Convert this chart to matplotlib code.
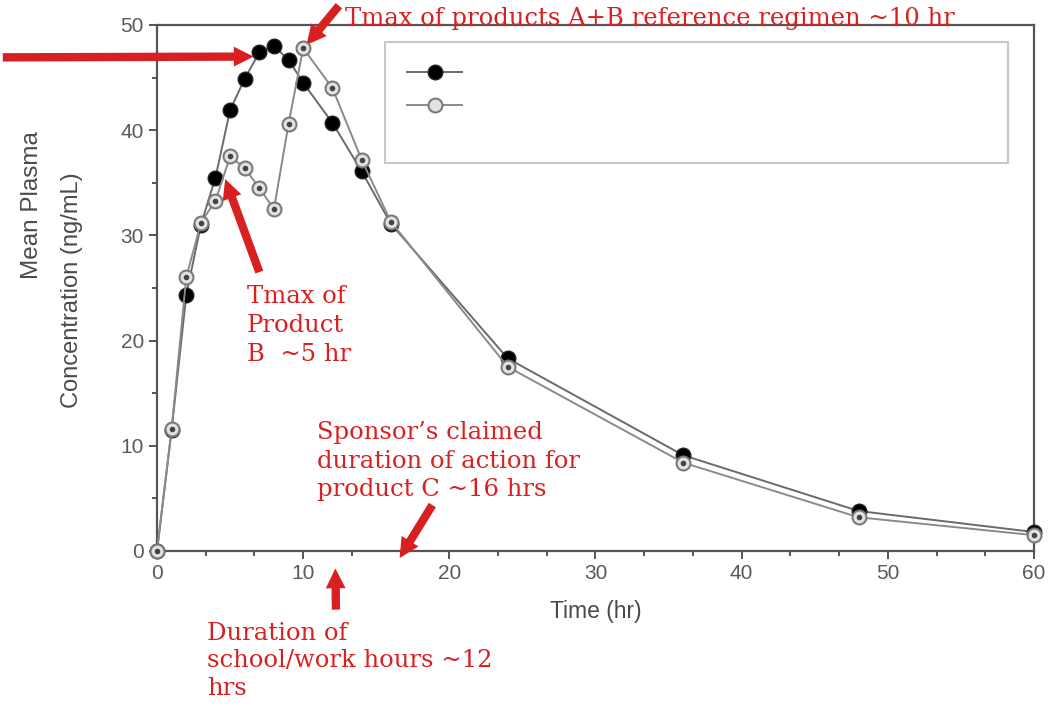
import matplotlib
matplotlib.use("Agg")
import matplotlib.pyplot as plt
from matplotlib.patches import Rectangle

# time points (hr)
time_hr = [0, 1, 2, 3, 4, 5, 6, 7, 8, 9, 10, 12, 14, 16, 24, 36, 48, 60]
# mean plasma concentration (ng/mL)
conc_c = [0, 11.5, 24.3, 31.0, 35.5, 41.9, 44.9, 47.4, 48.0, 46.7, 44.5,
          40.7, 36.1, 31.1, 18.3, 9.1, 3.8, 1.8]
conc_ab = [0, 11.6, 26.0, 31.2, 33.3, 37.5, 36.4, 34.5, 32.5, 40.6, 47.8,
           44.0, 37.2, 31.3, 17.5, 8.4, 3.2, 1.5]

x_ticks = [0, 10, 20, 30, 40, 50, 60]
y_ticks = [0, 10, 20, 30, 40, 50]

RED = "#d82020"
GREY_TXT = "#4a4a4a"
serif = ["DejaVu Serif"]
sans = ["Liberation Sans", "DejaVu Sans"]

fig = plt.figure(figsize=(10.58, 7.08), dpi=100)
ax = fig.add_axes([0.1484, 0.2218, 0.8289, 0.7429])

l1, = ax.plot(time_hr, conc_c, color="#6a6a6a", lw=1.4, marker="o", ms=10.5,
              mfc="black", mec="#222222", clip_on=False, zorder=3)
l2, = ax.plot(time_hr, conc_ab, color="#8a8a8a", lw=1.4, marker="o", ms=10,
              mfc="#e2e2e2", mec="#7a7a7a", mew=1.5, clip_on=False, zorder=4)
ax.plot(time_hr, conc_ab, ls="none", marker="o", ms=3, mfc="#444444",
        mec="#444444", clip_on=False, zorder=5)

ax.set_xlim(0, 60)
ax.set_ylim(0, 50)
ax.set_xticks(x_ticks)
ax.set_yticks(y_ticks)
ax.set_xticks([i * 10 / 3 for i in range(19) if i % 3], minor=True)
ax.set_yticks([5, 15, 25, 35, 45], minor=True)
for s in ax.spines.values():
    s.set_color("#555555")
    s.set_linewidth(1.6)
ax.tick_params(which="both", colors="#555555", labelcolor="#5a5a5a",
               labelsize=15, width=1.4)
ax.tick_params(which="major", length=6)
ax.tick_params(which="minor", length=3.5)
for lab in ax.get_xticklabels() + ax.get_yticklabels():
    lab.set_family(sans)

ax.set_xlabel("Time (hr)", fontsize=16.5, color=GREY_TXT, family=sans,
              labelpad=12)
fig.text(0.030, 0.71, "Mean Plasma", rotation=90, ha="center", va="center",
         fontsize=17.5, color=GREY_TXT, family=sans)
fig.text(0.068, 0.59, "Concentration (ng/mL)", rotation=90, ha="center",
         va="center", fontsize=17, color=GREY_TXT, family=sans)

# legend box (labels are blank in the source)
ax.add_patch(Rectangle((0.26, 0.738), 0.71, 0.23, transform=ax.transAxes,
                       fill=False, ec="#c8c8c8", lw=1.5, zorder=6))
ax.legend([l1, l2], [" ", " "], loc="upper left",
          bbox_to_anchor=(0.268, 0.955), frameon=False, handlelength=3.3,
          labelspacing=0.9, fontsize=12)

# annotations
arrow = dict(arrowstyle="simple,head_width=0.95,head_length=0.95,tail_width=0.4",
             color=RED, lw=0, mutation_scale=15)
ax.annotate("", xy=(6.8, 47.0), xycoords="data",
            xytext=(0.0, 0.919), textcoords="figure fraction",
            arrowprops=arrow, annotation_clip=False)
ax.annotate("", xy=(10.1, 47.9), xycoords="data",
            xytext=(0.322, 0.995), textcoords="figure fraction",
            arrowprops=arrow, annotation_clip=False)
ax.annotate("", xy=(4.6, 35.6), xycoords="data",
            xytext=(0.246, 0.612), textcoords="figure fraction",
            arrowprops=arrow, annotation_clip=False)
ax.annotate("", xy=(16.5, -0.9), xycoords="data",
            xytext=(0.41, 0.29), textcoords="figure fraction",
            arrowprops=arrow, annotation_clip=False)
ax.annotate("", xy=(12.2, -1.4), xycoords="data",
            xytext=(0.3176, 0.135), textcoords="figure fraction",
            arrowprops=arrow, annotation_clip=False)

fig.text(0.326, 0.974, "Tmax of products A+B reference regimen ~10 hr",
         color=RED, fontsize=17.5, family=serif, va="center")
fig.text(0.233, 0.597, "Tmax of\nProduct\nB  ~5 hr", color=RED, fontsize=17.5,
         family=serif, va="top", linespacing=1.32)
fig.text(0.300, 0.405, "Sponsor’s claimed\nduration of action for\nproduct C ~16 hrs",
         color=RED, fontsize=17.5, family=serif, va="top", linespacing=1.3)
fig.text(0.196, 0.122, "Duration of\nschool/work hours ~12\nhrs", color=RED,
         fontsize=17.5, family=serif, va="top", linespacing=1.25)

fig.savefig("out.png", dpi=100)
